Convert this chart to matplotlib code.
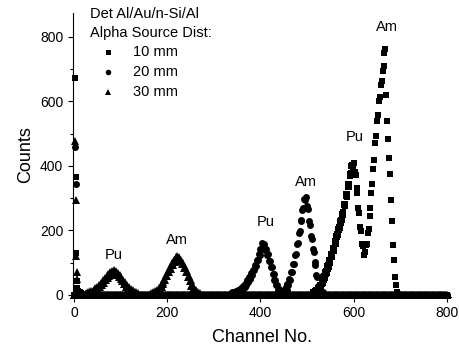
import numpy as np
import matplotlib
matplotlib.use("Agg")
import matplotlib.pyplot as plt
from matplotlib.ticker import MultipleLocator

plt.rcParams['font.family'] = ['Liberation Sans', 'DejaVu Sans']

# --- data (channel, counts) ---
# low-channel spikes
spike_ch_10 = [3, 4, 5, 6, 7, 9, 12, 16]
spike_ct_10 = [672, 366, 130, 44, 22, 12, 8, 5]
spike_ch_20 = [3, 4, 5, 7, 10, 14]
spike_ct_20 = [460, 344, 20, 12, 8, 5]
spike_ch_30 = [3, 4, 5, 6, 7, 9, 12, 16]
spike_ct_30 = [476, 295, 122, 72, 50, 20, 10, 6]

# 30 mm : Pu and Am peaks (start channel, every 2 channels)
pu30_start = 26
pu30_ct = [7, 0, 9, 1, 11, 2, 13, 5, 17, 9, 21, 13, 26, 19, 32, 25, 38, 31, 45, 38,
           52, 45, 59, 52, 65, 58, 71, 63, 75, 66, 77, 66, 74, 62, 69, 56, 63, 49, 56,
           42, 48, 34, 40, 26, 32, 19, 25, 12, 19, 6, 14, 2, 10, 0, 8, 0, 5, 0]
am30_start = 166
am30_ct = [7, 0, 9, 1, 13, 5, 17, 10, 23, 17, 31, 25, 40, 35, 50, 46, 62, 58, 74, 70,
           86, 82, 98, 94, 109, 103, 117, 109, 120, 109, 117, 104, 110, 95, 100, 84,
           87, 70, 73, 56, 59, 42, 45, 29, 33, 18, 23, 9, 15, 2, 10, 0, 7, 0]

# 20 mm : Pu and Am peaks
pu20_start = 340
pu20_ct = [8, 0, 10, 1, 12, 4, 16, 8, 20, 12, 25, 18, 31, 24, 38, 32, 46, 41, 56, 51,
           67, 63, 79, 76, 93, 91, 109, 107, 126, 125, 144, 143, 160, 151, 157, 141,
           144, 125, 126, 106, 106, 86, 86, 66, 66, 47, 48, 30, 32, 15, 19, 4, 11, 0,
           8, 0]
am20_start = 442
am20_ct = [9, 0, 12, 2, 17, 8, 24, 17, 35, 30, 50, 47, 70, 70, 95, 97, 124, 128, 157,
           162, 192, 198, 228, 234, 264, 270, 298, 296, 304, 276, 266, 230, 218, 184,
           174, 142, 134, 102, 94, 62, 56, 28, 27, 6, 12, 0, 8, 0]

# 10 mm : Pu and Am peaks
pu10_start = 512
pu10_ct = [9, 0, 11, 0, 14, 3, 21, 12, 32, 24, 45, 38, 59, 53, 75, 69, 92, 87, 110,
           105, 128, 123, 147, 143, 167, 163, 188, 185, 210, 207, 233, 231, 257, 256,
           283, 283, 312, 313, 343, 345, 375, 377, 404, 398, 409, 381, 372, 331, 315,
           271, 255, 211, 197, 158, 152, 125]
pu10_odd_start = 527
pu10_odd_ct = [30, 20, 43, 34, 57, 48, 72, 64, 89, 82, 107, 100, 125, 118, 143, 137,
               163, 157, 184, 179, 206, 201, 228, 224, 252, 249, 278, 275, 306, 305,
               336, 336, 368, 368, 399]
am10_start = 624
am10_ct = [132, 156, 159, 191, 204, 246, 269, 316, 344, 391, 419, 471, 494, 541, 559,
           601, 614, 651, 662, 696, 709, 751, 762, 620, 540, 485, 425, 375, 295, 230,
           155, 110, 55, 32, 8, 4]

# flat background, all series sit on zero
base_ch = np.arange(0, 801, 1)
base_ct = np.zeros(len(base_ch))

labels = ["10 mm", "20 mm", "30 mm"]
markers = ["s", "o", "^"]
msizes = [4.6, 5.0, 5.6]
leg_sizes = [3.6, 4.0, 4.6]

peak_labels = ["Pu", "Am", "Pu", "Am", "Pu", "Am"]
peak_lab_ch = [86, 221, 412, 498, 603, 671]
peak_lab_ct = [124, 171, 226, 350, 490, 831]


def seg(start, step, counts):
    return start + step * np.arange(len(counts)), np.array(counts)


series = []
for sc, st, segs in [
    (spike_ch_10, spike_ct_10, [(pu10_start, 2, pu10_ct), (pu10_odd_start, 2, pu10_odd_ct),
                                (am10_start, 2, am10_ct)]),
    (spike_ch_20, spike_ct_20, [(pu20_start, 2, pu20_ct), (am20_start, 2, am20_ct)]),
    (spike_ch_30, spike_ct_30, [(pu30_start, 2, pu30_ct), (am30_start, 2, am30_ct)]),
]:
    xs = [np.array(sc), base_ch]
    ys = [np.array(st), base_ct]
    for s in segs:
        x, y = seg(*s)
        xs.append(x)
        ys.append(y)
    series.append((np.concatenate(xs), np.concatenate(ys)))

fig = plt.figure(figsize=(4.59, 3.5), dpi=100)
ax = fig.add_axes([73 / 459, 1 - 296.6 / 350, 377.7 / 459, 283.8 / 350])

for (x, y), m, ms in zip(series[::-1], markers[::-1], msizes[::-1]):
    ax.plot(x, y, linestyle="none", marker=m, markersize=ms, color="black",
            markeredgewidth=0, clip_on=False)

ax.set_xlim(-2, 808)
ax.set_ylim(-5, 875)
ax.xaxis.set_major_locator(MultipleLocator(200))
ax.yaxis.set_major_locator(MultipleLocator(200))
ax.yaxis.set_minor_locator(MultipleLocator(100))
ax.spines["top"].set_visible(False)
ax.spines["right"].set_visible(False)
ax.tick_params(which="major", direction="out", length=3.5, width=0.8, labelsize=10)
ax.tick_params(which="minor", direction="out", length=2, width=0.8)

ax.set_xlabel("Channel No.", fontsize=13, labelpad=6)
ax.set_ylabel("Counts", fontsize=13, labelpad=4)

for t, cx, cy in zip(peak_labels, peak_lab_ch, peak_lab_ct):
    ax.text(cx, cy, t, ha="center", va="center", fontsize=10.5)

# legend block
fig.text(90 / 459, 1 - 14 / 350, "Det Al/Au/n-Si/Al", fontsize=10.5, va="center")
fig.text(90 / 459, 1 - 33 / 350, "Alpha Source Dist:", fontsize=10.5, va="center")
for i, (lab, m, ms) in enumerate(zip(labels, markers, leg_sizes)):
    py = 52 + 20 * i
    ax.plot([(108 - 73) / 377.7], [(296.6 - py) / 283.8], marker=m, markersize=ms,
            color="black", markeredgewidth=0, transform=ax.transAxes, clip_on=False)
    fig.text(133 / 459, 1 - py / 350, lab, fontsize=10.5, va="center")

fig.savefig("out.png", dpi=100)
